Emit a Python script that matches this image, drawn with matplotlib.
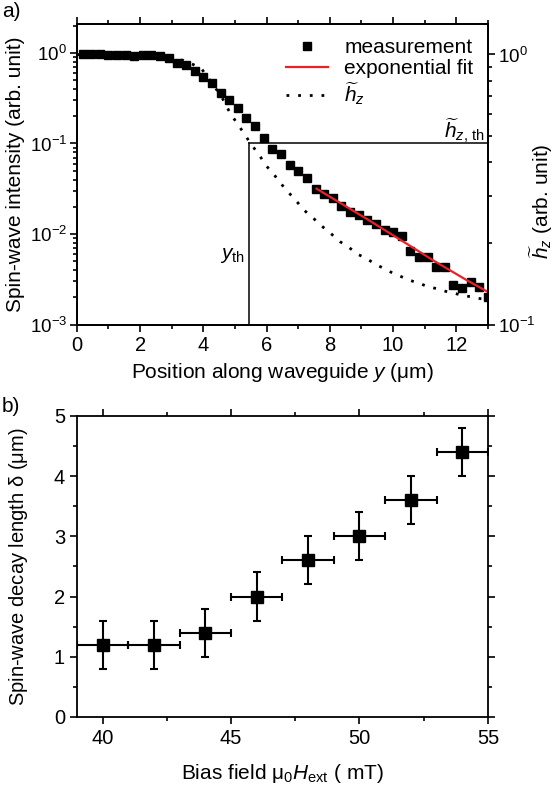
import numpy as np
import matplotlib
matplotlib.use('Agg')
import matplotlib.pyplot as plt
from matplotlib.ticker import MultipleLocator, FixedLocator, NullFormatter

plt.rcParams['font.family'] = ['Liberation Sans', 'DejaVu Sans']
plt.rcParams['mathtext.fontset'] = 'custom'
plt.rcParams['mathtext.rm'] = 'Liberation Sans'
plt.rcParams['mathtext.it'] = 'Liberation Sans:italic'
plt.rcParams['font.size'] = 14

# a) spin-wave intensity along the waveguide
pos = [0.18, 0.45, 0.73, 1.00, 1.27, 1.54, 1.82, 2.09, 2.36, 2.64, 2.91, 3.18,
       3.45, 3.73, 4.00, 4.27, 4.55, 4.82, 5.09, 5.36, 5.64, 5.91, 6.18, 6.45,
       6.73, 7.00, 7.27, 7.55, 7.82, 8.09, 8.36, 8.64, 8.91, 9.18, 9.45, 9.73,
       10.00, 10.27, 10.55, 10.82, 11.09, 11.36, 11.64, 11.91, 12.18, 12.45, 12.73, 13.00]
intensity = [0.98, 0.98, 0.97, 0.95, 0.95, 0.95, 0.93, 0.94, 0.957, 0.93, 0.88, 0.776,
             0.73, 0.638, 0.543, 0.467, 0.362, 0.30, 0.247, 0.192, 0.155, 0.115, 0.0863, 0.0767,
             0.0585, 0.0493, 0.0413, 0.0312, 0.028, 0.0248, 0.0206, 0.0174, 0.0164, 0.0142, 0.0128, 0.0112,
             0.0105, 0.0095, 0.00646, 0.0056, 0.00555, 0.00437, 0.0043, 0.00277, 0.00252, 0.00299, 0.00261, 0.0020]

fit_pos = [7.58, 9.17, 10.22, 11.28, 12.33, 13.0]
fit_val = [0.0317, 0.0147, 0.0087, 0.0051, 0.0031, 0.0023]

hz_pos = [0.0, 1.0, 2.0, 2.6, 3.05, 3.68, 3.95, 4.57, 4.84, 5.05, 5.23, 5.42, 5.6, 5.81,
          6.0, 6.23, 6.45, 6.69, 6.95, 7.19, 7.46, 7.74, 8.06, 8.32, 8.61, 8.87, 9.17,
          9.43, 9.72, 9.99, 10.27, 10.54, 10.82, 11.1, 11.38, 11.66, 11.93, 12.22, 12.49,
          12.75, 13.0]
hz_val = [0.999, 0.999, 0.997, 0.99, 0.984, 0.918, 0.883, 0.700, 0.609, 0.560, 0.522, 0.483,
          0.451, 0.417, 0.386, 0.360, 0.333, 0.309, 0.286, 0.265, 0.249, 0.232, 0.216, 0.203,
          0.193, 0.1825, 0.1756, 0.1676, 0.1613, 0.1552, 0.1504, 0.1458, 0.1425, 0.1382,
          0.1360, 0.1329, 0.1309, 0.1279, 0.1269, 0.1249, 0.1240]

y_th = 5.45
int_th = 0.1

# b) decay length vs bias field
field = [40, 42, 44, 46, 48, 50, 52, 54]
decay = [1.2, 1.2, 1.4, 2.0, 2.6, 3.0, 3.6, 4.4]
field_err = [1, 1, 1, 1, 1, 1, 1, 1]
decay_err = [0.4, 0.4, 0.4, 0.4, 0.4, 0.4, 0.4, 0.4]

fig = plt.figure(figsize=(5.57, 7.90), dpi=100)
ax = fig.add_axes([0.138, 0.589, 0.738, 0.381])
ax2 = ax.twinx()
bx = fig.add_axes([0.138, 0.0925, 0.738, 0.381])

for a in (ax, ax2, bx):
    for s in a.spines.values():
        s.set_linewidth(1.3)

# top panel
m1, = ax.plot(pos, intensity, 's', color='black', markersize=5.6, label='measurement')
f1, = ax.plot(fit_pos, fit_val, '-', color='#e8202a', lw=1.6, label='exponential fit')
h1, = ax2.plot(hz_pos, hz_val, color='black', lw=2, linestyle=(0, (1.0, 3.2)),
               label=r'$\widetilde{h}_z$')
ax.plot([y_th, y_th], [1e-3, int_th], color='black', lw=1.1)
ax.plot([y_th, 13], [int_th, int_th], color='black', lw=1.1)

ax.set_yscale('log')
ax.set_xlim(0, 13)
ax.set_ylim(1e-3, 2.1)
ax.xaxis.set_major_locator(MultipleLocator(2))
ax.xaxis.set_minor_locator(MultipleLocator(1))
ax.tick_params(which='both', direction='out', top=True, width=1.2)
ax.tick_params(which='major', length=5, labelsize=14.5)
ax.tick_params(axis='y', which='major', labelsize=13.5, pad=2)
ax.tick_params(which='minor', length=3)
ax.set_xlabel(r'Position along waveguide $y$ ($\mathrm{\mu}$m)', fontsize=15, labelpad=4)
ax.set_ylabel('Spin-wave intensity (arb. unit)', fontsize=15)
ax.yaxis.set_label_coords(-0.125, 0.5)

ax2.set_yscale('log')
ax2.set_ylim(0.1, 1.3)
ax2.yaxis.set_major_locator(FixedLocator([0.1, 1.0]))
ax2.yaxis.set_minor_locator(FixedLocator([0.2, 0.3, 0.4, 0.5, 0.6, 0.7, 0.8, 0.9]))
ax2.yaxis.set_minor_formatter(NullFormatter())
ax2.tick_params(which='both', direction='out', width=1.2)
ax2.tick_params(which='major', length=5, labelsize=13.5, pad=2)
ax2.tick_params(which='minor', length=3)

fig.text(0.972, 0.745, r'$\widetilde{h}_z$ (arb. unit)', fontsize=15, rotation=90,
         ha='center', va='center')

ax.text(5.3, 0.0058, r'$y_{\mathrm{th}}$', fontsize=15, ha='right', va='center')
ax.text(12.9, 0.14, r'$\widetilde{h}_{z,\,\mathrm{th}}$', fontsize=15, ha='right', va='center')

ax2.legend(handles=[m1, f1, h1], loc='upper right', frameon=False, fontsize=15,
           handlelength=2.0, handletextpad=0.8, labelspacing=0.1,
           borderaxespad=0.3, bbox_to_anchor=(1.0, 1.0))

# bottom panel
bx.errorbar(field, decay, xerr=field_err, yerr=decay_err, fmt='s', color='black',
            markersize=8, elinewidth=1.5, capsize=3, capthick=1.5)
bx.set_xlim(39, 55)
bx.set_ylim(0, 5)
bx.xaxis.set_major_locator(MultipleLocator(5))
bx.xaxis.set_minor_locator(MultipleLocator(2.5))
bx.yaxis.set_major_locator(MultipleLocator(1))
bx.yaxis.set_minor_locator(MultipleLocator(0.5))
bx.tick_params(which='both', direction='out', top=True, right=True, width=1.2)
bx.tick_params(which='major', length=5, labelsize=14.5)
bx.tick_params(which='minor', length=3)
bx.set_xlabel(r'Bias field $\mathrm{\mu_0}H_{\mathrm{ext}}$ ( mT)', fontsize=15, labelpad=10)
bx.set_ylabel(r'Spin-wave decay length $\mathrm{\delta}$ ($\mathrm{\mu}$m)', fontsize=14.5)
bx.yaxis.set_label_coords(-0.115, 0.5)

fig.text(0.003, 0.985, 'a)', fontsize=15, va='center')
fig.text(0.003, 0.485, 'b)', fontsize=15, va='center')

fig.savefig('out.png', dpi=100)
